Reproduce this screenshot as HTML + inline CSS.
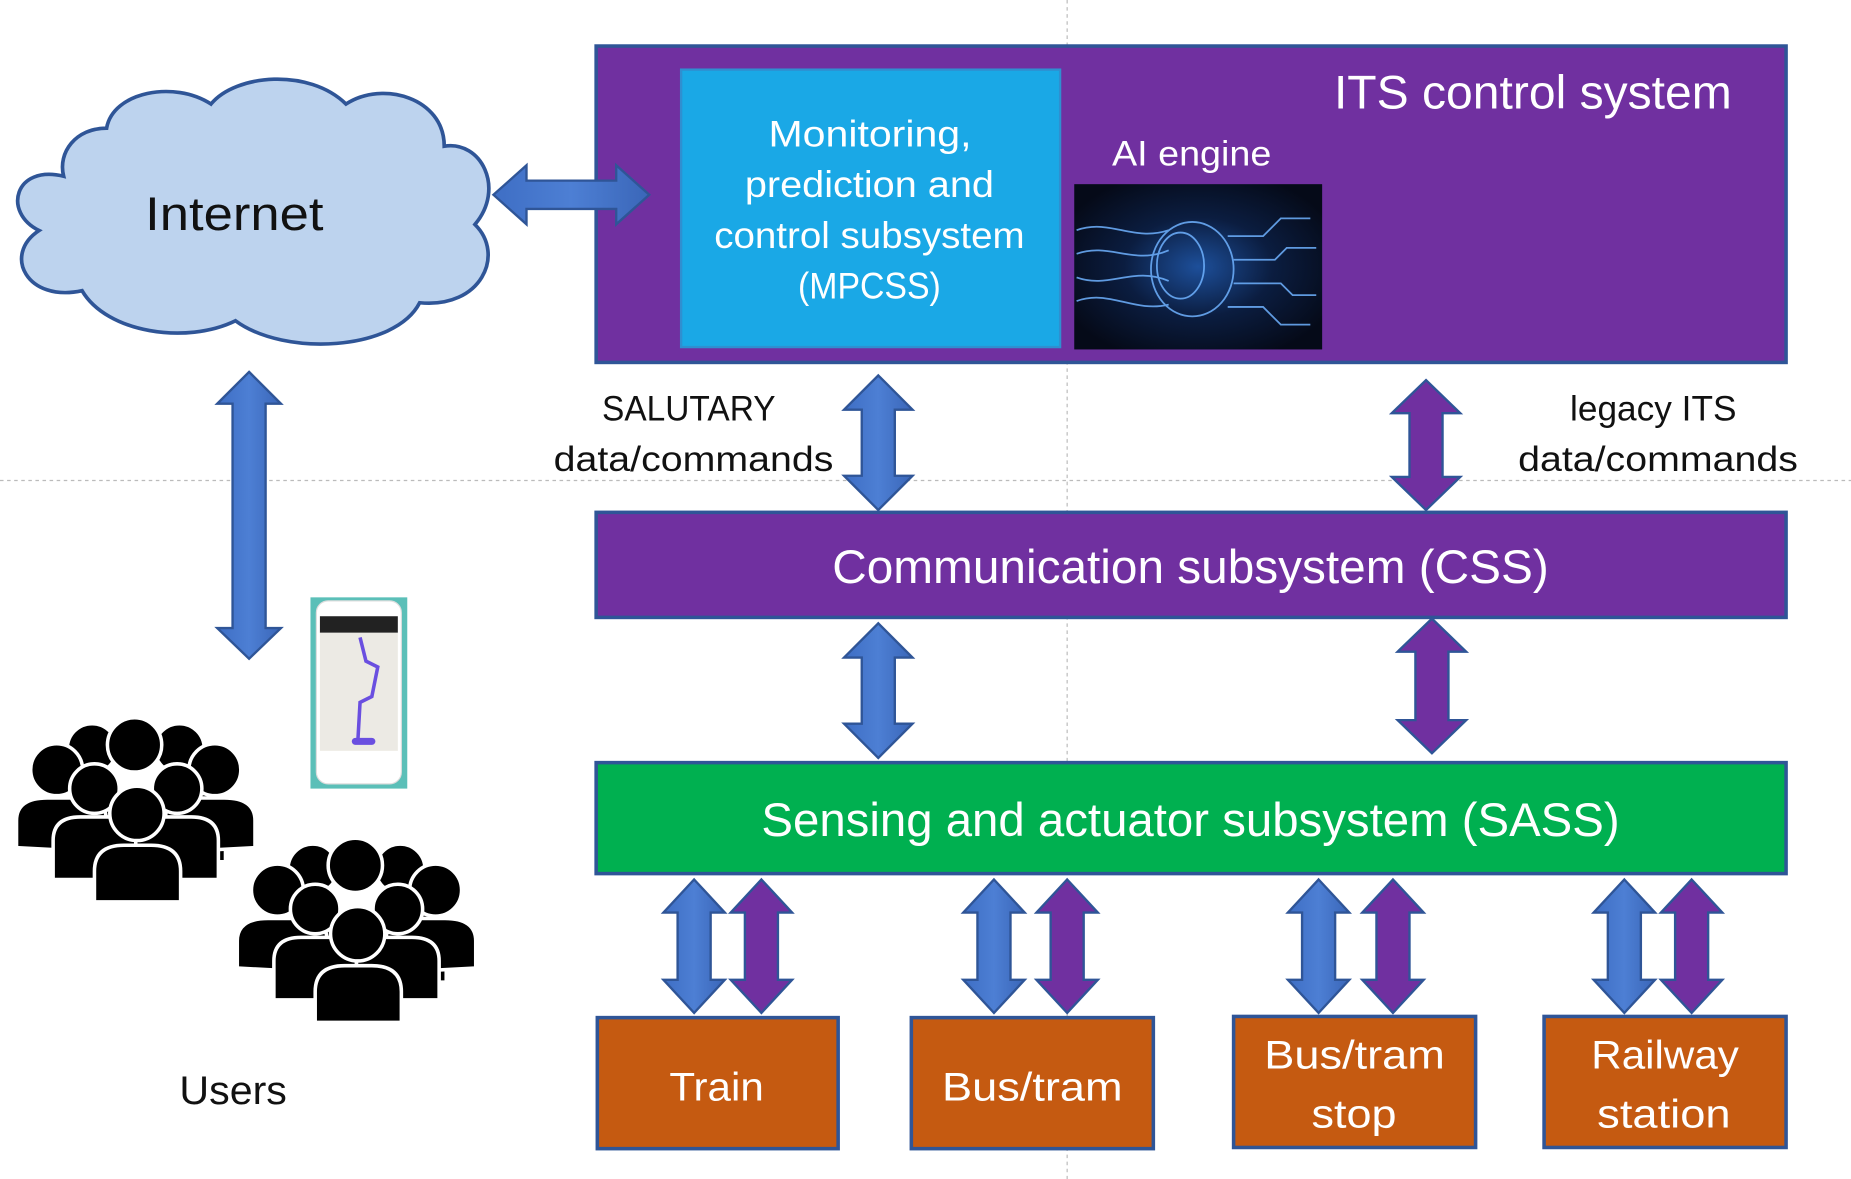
<!DOCTYPE html>
<html><head><meta charset="utf-8"><style>
html,body{margin:0;padding:0;background:#fff;width:1851px;height:1179px;overflow:hidden}
svg{display:block}
text{font-family:"Liberation Sans","DejaVu Sans",sans-serif}
</style></head><body>
<svg width="1851" height="1179" viewBox="0 0 1568 998.7" preserveAspectRatio="none" xmlns="http://www.w3.org/2000/svg">
<defs>
<linearGradient id="blu" x1="0" x2="1" y1="0" y2="0"><stop offset="0" stop-color="#3E6EC4"/><stop offset="0.5" stop-color="#4D7FD4"/><stop offset="1" stop-color="#3A66B8"/></linearGradient>
<radialGradient id="brain" cx="0.5" cy="0.5" r="0.6"><stop offset="0" stop-color="#1d4f9a"/><stop offset="0.5" stop-color="#0b1d40"/><stop offset="1" stop-color="#050a18"/></radialGradient>
</defs>
<line x1="904" y1="0" x2="904" y2="999" stroke="#bbb" stroke-width="1" stroke-dasharray="3,3"/>
<line x1="0" y1="407" x2="1568" y2="407" stroke="#bbb" stroke-width="1" stroke-dasharray="3,3"/>

<rect x="505" y="39" width="1008" height="268" fill="#7030A0" stroke="#2F5597" stroke-width="3"/>
<rect x="577" y="59" width="321" height="235" fill="#1AA8E6" stroke="#2F8FD0" stroke-width="2"/>
<g fill="#fff" font-size="31" lengthAdjust="spacingAndGlyphs">
<text x="651" y="124" textLength="172" lengthAdjust="spacingAndGlyphs">Monitoring,</text>
<text x="631" y="167" textLength="211" lengthAdjust="spacingAndGlyphs">prediction and</text>
<text x="605" y="210" textLength="263" lengthAdjust="spacingAndGlyphs">control subsystem</text>
<text x="676" y="253" textLength="121" lengthAdjust="spacingAndGlyphs">(MPCSS)</text>
</g>
<text x="1130" y="92" fill="#fff" font-size="40" textLength="337" lengthAdjust="spacingAndGlyphs">ITS control system</text>
<text x="942" y="140" fill="#fff" font-size="30" textLength="135" lengthAdjust="spacingAndGlyphs">AI engine</text>
<rect x="910" y="156" width="210" height="140" fill="url(#brain)"/>
<g stroke="#6fb2ff" stroke-width="1.5" fill="none" opacity="0.85">
<path d="M912 195 C940 185 960 205 990 195"/><path d="M912 215 C940 205 960 225 990 212"/><path d="M912 235 C940 245 960 225 990 238"/><path d="M912 255 C940 245 960 265 990 258"/>
<ellipse cx="1010" cy="228" rx="35" ry="40"/><ellipse cx="1000" cy="225" rx="20" ry="28"/>
<path d="M1040 200 H1070 L1085 185 H1110"/><path d="M1045 220 H1080 L1090 210 H1115"/><path d="M1045 240 H1085 L1095 250 H1115"/><path d="M1040 260 H1070 L1085 275 H1110"/>
</g>

<g transform="translate(212,183) scale(1.04,1.02) translate(-212,-183)">
<path d="M60 150 C20 140 10 180 40 195 C10 215 30 255 75 245 C95 280 160 290 200 270 C240 300 330 295 350 255 C400 260 420 215 395 190 C420 160 400 120 370 125 C370 85 320 70 290 90 C260 60 200 65 180 90 C150 70 100 80 95 110 C70 110 55 130 60 150 Z" fill="#BDD3EE" stroke="#2F5597" stroke-width="3"/>
</g>
<text x="123" y="195" font-size="40" fill="#111" textLength="151" lengthAdjust="spacingAndGlyphs">Internet</text>

<path d="M418 165 L446 140 L446 153 L522 153 L522 140 L550 165 L522 190 L522 177 L446 177 L446 190 Z" fill="url(#blu)" stroke="#2F5597" stroke-width="2"/>
<path d="M211 315 L238 342 L225 342 L225 532 L238 532 L211 558 L184 532 L197 532 L197 342 L184 342 Z" fill="url(#blu)" stroke="#2F5597" stroke-width="2"/>

<path d="M744 318 L773 347 L758 347 L758 403 L773 403 L744 432 L715 403 L730 403 L730 347 L715 347 Z" fill="url(#blu)" stroke="#2F5597" stroke-width="2"/>
<path d="M1208 322 L1237 350 L1222 350 L1222 404 L1237 404 L1208 432 L1179 404 L1194 404 L1194 350 L1179 350 Z" fill="#7030A0" stroke="#2F5597" stroke-width="2"/>
<g font-size="30" fill="#111">
<text x="510" y="356" textLength="147" lengthAdjust="spacingAndGlyphs">SALUTARY</text>
<text x="469" y="399" textLength="237" lengthAdjust="spacingAndGlyphs">data/commands</text>
<text x="1330" y="356" textLength="141" lengthAdjust="spacingAndGlyphs">legacy ITS</text>
<text x="1286" y="399" textLength="237" lengthAdjust="spacingAndGlyphs">data/commands</text>
</g>

<rect x="505" y="434" width="1008" height="89" fill="#7030A0" stroke="#2F5597" stroke-width="3"/>
<text x="705" y="494" font-size="40" fill="#fff" textLength="607" lengthAdjust="spacingAndGlyphs">Communication subsystem (CSS)</text>

<path d="M744 528 L773 557 L758 557 L758 613 L773 613 L744 642 L715 613 L730 613 L730 557 L715 557 Z" fill="url(#blu)" stroke="#2F5597" stroke-width="2"/>
<path d="M1213 524 L1242 552 L1227 552 L1227 610 L1242 610 L1213 638 L1184 610 L1199 610 L1199 552 L1184 552 Z" fill="#7030A0" stroke="#2F5597" stroke-width="2"/>

<rect x="505" y="646" width="1008" height="94" fill="#00B050" stroke="#2F5597" stroke-width="3"/>
<text x="645" y="708" font-size="40" fill="#fff" textLength="727" lengthAdjust="spacingAndGlyphs">Sensing and actuator subsystem (SASS)</text>

<g stroke="#2F5597" stroke-width="2">
<path d="M588 745 L614 773 L602 773 L602 830 L614 830 L588 858 L562 830 L574 830 L574 773 L562 773 Z" fill="url(#blu)"/>
<path d="M645 745 L671 773 L659 773 L659 830 L671 830 L645 858 L619 830 L631 830 L631 773 L619 773 Z" fill="#7030A0"/>
<path d="M842 745 L868 773 L856 773 L856 830 L868 830 L842 858 L816 830 L828 830 L828 773 L816 773 Z" fill="url(#blu)"/>
<path d="M904 745 L930 773 L918 773 L918 830 L930 830 L904 858 L878 830 L890 830 L890 773 L878 773 Z" fill="#7030A0"/>
<path d="M1117 745 L1143 773 L1131 773 L1131 830 L1143 830 L1117 858 L1091 830 L1103 830 L1103 773 L1091 773 Z" fill="url(#blu)"/>
<path d="M1180 745 L1206 773 L1194 773 L1194 830 L1206 830 L1180 858 L1154 830 L1166 830 L1166 773 L1154 773 Z" fill="#7030A0"/>
<path d="M1376 745 L1402 773 L1390 773 L1390 830 L1402 830 L1376 858 L1350 830 L1362 830 L1362 773 L1350 773 Z" fill="url(#blu)"/>
<path d="M1433 745 L1459 773 L1447 773 L1447 830 L1459 830 L1433 858 L1407 830 L1419 830 L1419 773 L1407 773 Z" fill="#7030A0"/>
</g>

<g fill="#C55A11" stroke="#2F5597" stroke-width="3">
<rect x="506" y="862" width="204" height="111"/>
<rect x="772" y="862" width="205" height="111"/>
<rect x="1045" y="861" width="205" height="111"/>
<rect x="1308" y="861" width="205" height="111"/>
</g>
<g fill="#fff" font-size="34">
<text x="567" y="932" textLength="80" lengthAdjust="spacingAndGlyphs">Train</text>
<text x="798" y="932" textLength="153" lengthAdjust="spacingAndGlyphs">Bus/tram</text>
<text x="1071" y="905" textLength="153" lengthAdjust="spacingAndGlyphs">Bus/tram</text>
<text x="1111" y="955" textLength="72" lengthAdjust="spacingAndGlyphs">stop</text>
<text x="1348" y="905" textLength="125" lengthAdjust="spacingAndGlyphs">Railway</text>
<text x="1353" y="955" textLength="113" lengthAdjust="spacingAndGlyphs">station</text>
</g>

<rect x="263" y="506" width="82" height="162" fill="#5BBFB8"/>
<rect x="268" y="509" width="72" height="155" rx="10" fill="#fff" stroke="#ddd"/>
<rect x="271" y="522" width="66" height="14" fill="#222"/>
<rect x="271" y="536" width="66" height="100" fill="#eceae4"/>
<path d="M305 540 L310 560 L320 565 L315 590 L305 595 L303 630" stroke="#6A4FE0" stroke-width="3" fill="none"/>
<rect x="298" y="625" width="20" height="6" rx="3" fill="#6A4FE0"/>

<g id="grp" fill="#000" stroke="#fff" stroke-width="3">
<path d="M52 730 V690 Q52 672 75 672 H105 Q128 672 128 690 V730 Z"/><circle cx="78" cy="634" r="21"/>
<path d="M115 730 V690 Q115 672 138 672 H168 Q191 672 191 690 V730 Z"/><circle cx="152" cy="634" r="21"/>
<circle cx="114" cy="631" r="23"/>
<path d="M14 718 V695 Q14 676 40 676 H70 Q90 676 90 695 V722 Z"/><circle cx="48" cy="652" r="22"/>
<path d="M140 722 V695 Q140 676 160 676 H190 Q216 676 216 695 V718 Z"/><circle cx="182" cy="652" r="22"/>
<path d="M45 745 V712 Q45 692 68 692 H95 Q115 692 115 712 V745 Z"/><circle cx="80" cy="668" r="21"/>
<path d="M115 745 V712 Q115 692 135 692 H162 Q185 692 185 712 V745 Z"/><circle cx="150" cy="668" r="21"/>
<path d="M80 764 V738 Q80 716 105 716 H128 Q153 716 153 738 V764 Z"/><circle cx="116" cy="689" r="23"/>
</g>
<use href="#grp" transform="translate(187,102)"/>
<text x="152" y="935" font-size="34" fill="#111" textLength="91" lengthAdjust="spacingAndGlyphs">Users</text>
</svg>
</body></html>
